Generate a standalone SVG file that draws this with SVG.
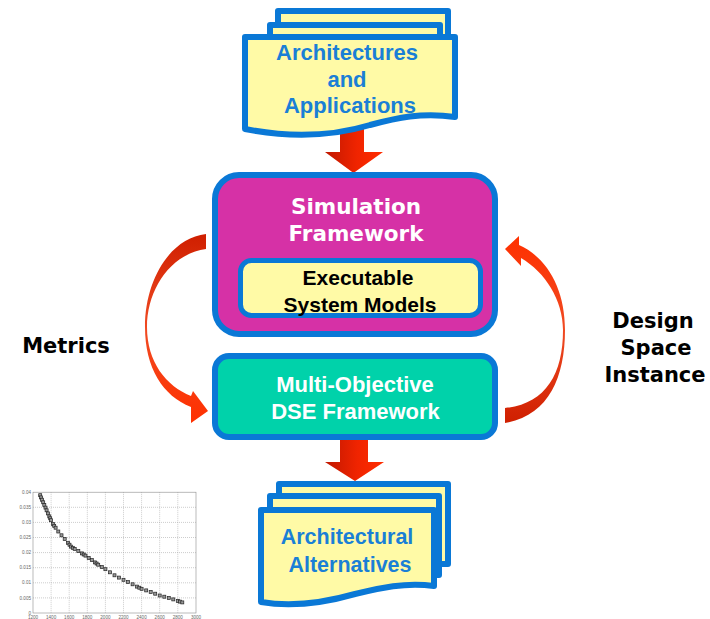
<svg xmlns="http://www.w3.org/2000/svg" width="710" height="619" viewBox="0 0 710 619">
  <defs>
    <linearGradient id="blockRed" x1="0" y1="0" x2="1" y2="0">
      <stop offset="0" stop-color="#c01800"/>
      <stop offset="0.55" stop-color="#f02400"/>
      <stop offset="1" stop-color="#ff2d00"/>
    </linearGradient>
    <linearGradient id="loopLeft" x1="0" y1="0" x2="0" y2="1">
      <stop offset="0" stop-color="#cf1f00"/>
      <stop offset="0.5" stop-color="#f04a22"/>
      <stop offset="1" stop-color="#ff3000"/>
    </linearGradient>
    <linearGradient id="loopRight" x1="0" y1="0" x2="0" y2="1">
      <stop offset="0" stop-color="#ff3000"/>
      <stop offset="0.5" stop-color="#f04a22"/>
      <stop offset="1" stop-color="#cf1f00"/>
    </linearGradient>
    <marker id="pt" markerUnits="userSpaceOnUse" markerWidth="4" markerHeight="4" refX="2" refY="2" overflow="visible">
      <rect x="0.5" y="0.5" width="3" height="3" fill="#999" stroke="#222" stroke-width="0.7"/>
    </marker>
  </defs>
  <style>
    .sheet { fill: #fffaa6; stroke: #0a78d6; stroke-width: 6; stroke-linejoin: round; }
    .docText { font-family: "Liberation Sans", Arial, sans-serif; font-weight: bold; font-size: 22px; fill: #1a7fd6; text-anchor: middle; }
    .boxText { font-family: "Liberation Sans", Arial, sans-serif; font-weight: bold; font-size: 22px; fill: #ffffff; text-anchor: middle; }
    .wideText { font-family: "DejaVu Sans", Verdana, sans-serif; font-weight: bold; font-size: 21.5px; text-anchor: middle; }
    .label { font-family: "DejaVu Sans", Verdana, sans-serif; font-weight: bold; font-size: 21px; fill: #000000; text-anchor: middle; }
    .grid { stroke: #9a9a9a; stroke-width: 0.5; stroke-dasharray: 1 1; fill: none; }
    .tick { font-family: "Liberation Sans", Arial, sans-serif; font-size: 4.6px; fill: #666; }
  </style>

  <g id="connectors">
    <!-- feedback loop: metrics from simulation back into the DSE framework -->
    <path id="loop-metrics" fill="url(#loopLeft)" d="M206,234 C170,238 145,280 145,327 C145,368 163,396 191,407 L191,423 L208,411 L193,391 L191,396 C166,386 147,362 147,327 C147,290 170,254 206,249 Z"/>
    <!-- feedback loop: design space instance into the simulation framework -->
    <path id="loop-instance" fill="url(#loopRight)" d="M505,423 C548,416 565,378 565,330 C565,290 548,258 519,245 L519,236 L505,249 L521,266 L521,258 C545,272 563,300 563,330 C563,375 545,404 505,408 Z"/>
    <!-- inputs into the simulation framework -->
    <path id="flow-in" fill="url(#blockRed)" d="M340,126 H364 V152 H383 L353.5,173 L325,152 H340 Z"/>
    <!-- DSE results out to the alternatives -->
    <path id="flow-out" fill="url(#blockRed)" d="M340,438 H368 V462 H384 L355,481 L325,462 H340 Z"/>
  </g>

  <g id="architectures-applications">
    <rect class="sheet" x="278" y="11" width="170" height="70"/>
    <rect class="sheet" x="270" y="25" width="170" height="70"/>
    <path class="sheet" d="M245,37 H455 V117 C422,112 396,118 370,125 C330,137 290,138 245,129 Z"/>
    <text class="docText" x="347" y="60">Architectures</text>
    <text class="docText" x="347" y="87">and</text>
    <text class="docText" x="350" y="113">Applications</text>
  </g>

  <g id="simulation-framework">
    <rect x="215" y="175" width="280" height="159" rx="24" fill="#d631a6" stroke="#0a78d6" stroke-width="6"/>
    <text class="wideText" x="356" y="214" fill="#ffffff">Simulation</text>
    <text class="wideText" x="356" y="241" fill="#ffffff">Framework</text>
  </g>

  <g id="executable-system-models">
    <rect x="240.5" y="260.5" width="240" height="55" rx="11" fill="#fffaa6" stroke="#0a78d6" stroke-width="5"/>
    <text class="boxText" x="358" y="285" style="font-size:21px;fill:#000">Executable</text>
    <text class="boxText" x="360" y="312" style="font-size:21px;fill:#000">System Models</text>
  </g>

  <g id="dse-framework">
    <rect x="215" y="356" width="280" height="81" rx="14" fill="#00d2aa" stroke="#0a78d6" stroke-width="6"/>
    <text class="boxText" x="355" y="392">Multi-Objective</text>
    <text class="boxText" x="355.5" y="419">DSE Framework</text>
  </g>

  <g id="architectural-alternatives">
    <rect class="sheet" x="279" y="484" width="169" height="80"/>
    <rect class="sheet" x="270" y="496" width="169" height="79"/>
    <path class="sheet" d="M261,510 H434 V586 C405,582 380,588 355,594 C320,604 290,607 261,602 Z"/>
    <text class="docText" x="347" y="544" style="font-size:21.5px">Architectural</text>
    <text class="docText" x="350" y="572" style="font-size:21.5px">Alternatives</text>
  </g>

  <g id="metrics-label">
    <text class="label" x="66" y="353">Metrics</text>
  </g>

  <g id="design-space-instance-label">
    <text class="label" x="653" y="328">Design</text>
    <text class="label" x="656" y="355">Space</text>
    <text class="label" x="655" y="382">Instance</text>
  </g>

  <!-- Pareto front plot -->
  <g id="pareto-plot">
    <rect x="33" y="492.2" width="163" height="120.8" fill="#ffffff" stroke="#8c8c8c" stroke-width="0.6"/>
    <path class="grid" d="M51.1,492.2 V613 M69.2,492.2 V613 M87.3,492.2 V613 M105.4,492.2 V613 M123.5,492.2 V613 M141.6,492.2 V613 M159.7,492.2 V613 M177.8,492.2 V613"/>
    <path class="grid" d="M33,597.9 H196 M33,582.8 H196 M33,567.7 H196 M33,552.6 H196 M33,537.5 H196 M33,522.4 H196 M33,507.3 H196"/>
    <g class="tick" text-anchor="end">
      <text x="31" y="494">0.04</text>
      <text x="31" y="509">0.035</text>
      <text x="31" y="524">0.03</text>
      <text x="31" y="539">0.025</text>
      <text x="31" y="554">0.02</text>
      <text x="31" y="569">0.015</text>
      <text x="31" y="584">0.01</text>
      <text x="31" y="599.5">0.005</text>
      <text x="31" y="614.5">0</text>
    </g>
    <g class="tick" text-anchor="middle">
      <text x="33" y="618.5">1200</text>
      <text x="51.1" y="618.5">1400</text>
      <text x="69.2" y="618.5">1600</text>
      <text x="87.3" y="618.5">1800</text>
      <text x="105.4" y="618.5">2000</text>
      <text x="123.5" y="618.5">2200</text>
      <text x="141.6" y="618.5">2400</text>
      <text x="159.7" y="618.5">2600</text>
      <text x="177.8" y="618.5">2800</text>
      <text x="196" y="618.5">3000</text>
    </g>
    <polyline fill="none" stroke="none" marker-start="url(#pt)" marker-mid="url(#pt)" marker-end="url(#pt)" points="40.2,495.2 41.1,497.4 42.1,499.7 43.2,502.3 44.3,505 45.5,507.6 46.6,510.3 48,513.4 49.3,516.4 50.2,518.3 51.1,520.2 52.9,523.9 54.2,525.8 55.6,527.7 58.3,531.5 61.5,535.3 64.7,539 67.9,542.8 69.5,544.7 71,546.6 72.8,547.8 74.7,548.9 78.3,551.1 81.9,553.4 83.7,554.5 85.5,555.6 88.7,557.9 91.8,560.1 95,562.4 96.6,563.5 98.2,564.7 101.8,567 105.4,569.2 110,572.3 114.5,575.3 119,577.6 123.5,579.8 128,582.1 132.6,584.3 137.1,586.6 139.3,587.7 141.6,588.8 146.2,590.4 150.7,591.9 155.2,593.7 159.7,595.5 164.3,596.7 168.8,597.9 173.3,599.4 177.8,600.9 180,601.6 182.3,602.4"/>
  </g>
</svg>
